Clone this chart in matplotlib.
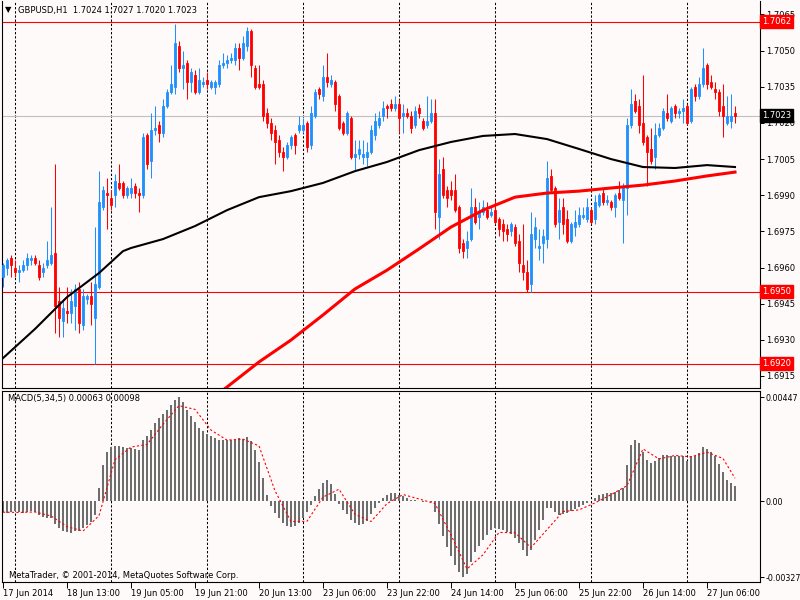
import numpy as np
import matplotlib
matplotlib.use('Agg')
import matplotlib.pyplot as plt

# GBPUSD H1 candles (17 Jun 21:00 .. 27 Jun 13:00)
opens = [1.6956, 1.6960, 1.6964, 1.6960, 1.6958, 1.6959, 1.6961, 1.6963, 1.6964, 1.6961,
         1.6958, 1.6961, 1.6962, 1.6966, 1.6946, 1.6938, 1.6942, 1.6941, 1.6944, 1.6951,
         1.6936, 1.6947, 1.6948, 1.6939, 1.6952, 1.6985, 1.6991, 1.6989, 1.6990, 1.6995,
         1.6995, 1.6990, 1.6991, 1.6994, 1.6991, 1.6990, 1.7015, 1.7004, 1.7017, 1.7019,
         1.7016, 1.7027, 1.7033, 1.7035, 1.7052, 1.7043, 1.7045, 1.7037, 1.7040, 1.7033,
         1.7036, 1.7038, 1.7035, 1.7035, 1.7036, 1.7044, 1.7045, 1.7046, 1.7046, 1.7051,
         1.7047, 1.7052, 1.7058, 1.7043, 1.7036, 1.7036, 1.7024, 1.7020, 1.7017, 1.7013,
         1.7008, 1.7006, 1.7011, 1.7015, 1.7017, 1.7017, 1.7020, 1.7011, 1.7023, 1.7034,
         1.7031, 1.7039, 1.7036, 1.7037, 1.7031, 1.7020, 1.7016, 1.7022, 1.7006, 1.7007,
         1.7006, 1.7006, 1.7008, 1.7015, 1.7019, 1.7023, 1.7027, 1.7028, 1.7026, 1.7028,
         1.7023, 1.7024, 1.7023, 1.7019, 1.7026, 1.7021, 1.7019, 1.7021, 1.7024, 1.6981,
         1.7001, 1.6992, 1.6992, 1.6992, 1.6985, 1.6970, 1.6968, 1.6972, 1.6985, 1.6981,
         1.6983, 1.6984, 1.6982, 1.6984, 1.6980, 1.6978, 1.6976, 1.6975, 1.6977, 1.6971,
         1.6961, 1.6958, 1.6953, 1.6972, 1.6968, 1.6970, 1.6972, 1.6998, 1.6993, 1.6979,
         1.6985, 1.6980, 1.6971, 1.6977, 1.6978, 1.6981, 1.6980, 1.6984, 1.6980, 1.6986,
         1.6991, 1.6987, 1.6987, 1.6985, 1.6991, 1.6988, 1.6993, 1.7019, 1.7029, 1.7027,
         1.7020, 1.7014, 1.7009, 1.7006, 1.7015, 1.7018, 1.7024, 1.7021, 1.7027, 1.7024,
         1.7025, 1.7027, 1.7021, 1.7035, 1.7031, 1.7036, 1.7044, 1.7037, 1.7034, 1.7033,
         1.7027, 1.7020, 1.7021, 1.7024]
highs = [1.6962, 1.6964, 1.6965, 1.6963, 1.6961, 1.6963, 1.6966, 1.6965, 1.6965, 1.6963,
         1.6962, 1.6971, 1.6985, 1.7003, 1.6952, 1.6947, 1.6952, 1.6951, 1.6953, 1.6954,
         1.6951, 1.6949, 1.6954, 1.6977, 1.7000, 1.6994, 1.6997, 1.6992, 1.6999, 1.7003,
         1.6996, 1.6994, 1.6997, 1.6995, 1.6993, 1.7016, 1.7016, 1.7024, 1.7027, 1.7021,
         1.7030, 1.7034, 1.7044, 1.7061, 1.7054, 1.7050, 1.7046, 1.7043, 1.7042, 1.7043,
         1.7039, 1.7041, 1.7038, 1.7038, 1.7046, 1.7049, 1.7048, 1.7049, 1.7053, 1.7053,
         1.7056, 1.7060, 1.7059, 1.7044, 1.7044, 1.7038, 1.7026, 1.7022, 1.7019, 1.7015,
         1.7010, 1.7012, 1.7015, 1.7016, 1.7023, 1.7022, 1.7021, 1.7027, 1.7034, 1.7035,
         1.7044, 1.7049, 1.7040, 1.7038, 1.7032, 1.7021, 1.7025, 1.7023, 1.7013, 1.7013,
         1.7013, 1.7012, 1.7019, 1.7024, 1.7025, 1.7029, 1.7028, 1.7030, 1.7031, 1.7030,
         1.7028, 1.7026, 1.7025, 1.7027, 1.7028, 1.7022, 1.7031, 1.7030, 1.7030, 1.7005,
         1.7006, 1.6994, 1.6996, 1.6999, 1.6986, 1.6972, 1.6975, 1.6993, 1.6989, 1.6987,
         1.6988, 1.6987, 1.6986, 1.6988, 1.6981, 1.6980, 1.6978, 1.6979, 1.6978, 1.6974,
         1.6978, 1.6963, 1.6983, 1.6981, 1.6976, 1.6976, 1.7004, 1.7001, 1.6994, 1.6989,
         1.6989, 1.6984, 1.6979, 1.6984, 1.6985, 1.6985, 1.6989, 1.6985, 1.6990, 1.6991,
         1.6993, 1.6990, 1.6988, 1.6991, 1.6996, 1.6995, 1.7022, 1.7034, 1.7032, 1.7030,
         1.7040, 1.7015, 1.7018, 1.7020, 1.7020, 1.7026, 1.7032, 1.7027, 1.7028, 1.7026,
         1.7030, 1.7028, 1.7035, 1.7036, 1.7039, 1.7051, 1.7045, 1.7040, 1.7037, 1.7034,
         1.7036, 1.7031, 1.7032, 1.7027]
lows = [1.6952, 1.6957, 1.6956, 1.6956, 1.6954, 1.6958, 1.6959, 1.6961, 1.6961, 1.6955,
        1.6956, 1.6960, 1.6961, 1.6933, 1.6931, 1.6931, 1.6937, 1.6937, 1.6934, 1.6933,
        1.6934, 1.6945, 1.6936, 1.6920, 1.6951, 1.6984, 1.6976, 1.6984, 1.6985, 1.6992,
        1.6989, 1.6989, 1.6989, 1.6989, 1.6983, 1.6989, 1.7001, 1.6997, 1.7015, 1.7012,
        1.7014, 1.7026, 1.7032, 1.7032, 1.7041, 1.7034, 1.7030, 1.7033, 1.7032, 1.7032,
        1.7035, 1.7034, 1.7034, 1.7032, 1.7035, 1.7043, 1.7043, 1.7045, 1.7044, 1.7042,
        1.7046, 1.7050, 1.7039, 1.7034, 1.7034, 1.7021, 1.7018, 1.7013, 1.7003, 1.7006,
        1.7000, 1.7005, 1.7009, 1.7007, 1.7016, 1.7016, 1.7008, 1.7009, 1.7022, 1.7030,
        1.7029, 1.7035, 1.7035, 1.7025, 1.7017, 1.7015, 1.7015, 1.7005, 1.7000, 1.7005,
        1.7003, 1.7002, 1.7007, 1.7013, 1.7018, 1.7021, 1.7022, 1.7025, 1.7025, 1.7016,
        1.7016, 1.7022, 1.7016, 1.7018, 1.7022, 1.7017, 1.7018, 1.7020, 1.6976, 1.6972,
        1.6989, 1.6985, 1.6988, 1.6983, 1.6966, 1.6964, 1.6964, 1.6971, 1.6978, 1.6976,
        1.6982, 1.6980, 1.6981, 1.6978, 1.6973, 1.6971, 1.6971, 1.6973, 1.6969, 1.6958,
        1.6955, 1.6950, 1.6950, 1.6968, 1.6963, 1.6962, 1.6968, 1.6991, 1.6977, 1.6972,
        1.6974, 1.6970, 1.6970, 1.6973, 1.6977, 1.6980, 1.6979, 1.6978, 1.6978, 1.6985,
        1.6986, 1.6986, 1.6984, 1.6981, 1.6988, 1.6970, 1.6982, 1.7018, 1.7024, 1.7016,
        1.7011, 1.6994, 1.7003, 1.7001, 1.7014, 1.7017, 1.7021, 1.7020, 1.7022, 1.7022,
        1.7020, 1.7019, 1.7020, 1.7029, 1.7030, 1.7035, 1.7034, 1.7034, 1.7030, 1.7023,
        1.7014, 1.7019, 1.7018, 1.7020]
closes = [1.6961, 1.6963, 1.6961, 1.6958, 1.6959, 1.6961, 1.6964, 1.6964, 1.6962, 1.6956,
          1.6960, 1.6963, 1.6965, 1.6944, 1.6939, 1.6943, 1.6941, 1.6946, 1.6951, 1.6937,
          1.6948, 1.6948, 1.6945, 1.6953, 1.6987, 1.6992, 1.6990, 1.6986, 1.6996, 1.6993,
          1.6990, 1.6993, 1.6993, 1.6991, 1.6990, 1.7014, 1.7003, 1.7017, 1.7018, 1.7016,
          1.7027, 1.7033, 1.7036, 1.7053, 1.7043, 1.7044, 1.7037, 1.7041, 1.7033, 1.7038,
          1.7037, 1.7036, 1.7037, 1.7037, 1.7044, 1.7045, 1.7046, 1.7047, 1.7051, 1.7047,
          1.7053, 1.7058, 1.7044, 1.7035, 1.7035, 1.7023, 1.7020, 1.7016, 1.7012, 1.7008,
          1.7006, 1.7011, 1.7014, 1.7011, 1.7019, 1.7019, 1.7010, 1.7024, 1.7033, 1.7032,
          1.7039, 1.7037, 1.7038, 1.7028, 1.7018, 1.7016, 1.7024, 1.7006, 1.7007, 1.7009,
          1.7007, 1.7008, 1.7017, 1.7021, 1.7022, 1.7026, 1.7026, 1.7026, 1.7028, 1.7022,
          1.7024, 1.7023, 1.7018, 1.7025, 1.7024, 1.7018, 1.7021, 1.7024, 1.6983, 1.6999,
          1.6990, 1.6989, 1.6990, 1.6984, 1.6968, 1.6967, 1.6971, 1.6985, 1.6979, 1.6983,
          1.6985, 1.6981, 1.6983, 1.6979, 1.6976, 1.6975, 1.6974, 1.6978, 1.6970, 1.6962,
          1.6958, 1.6951, 1.6974, 1.6977, 1.6969, 1.6973, 1.6997, 1.6992, 1.6978, 1.6984,
          1.6978, 1.6971, 1.6978, 1.6979, 1.6982, 1.6982, 1.6985, 1.6979, 1.6987, 1.6990,
          1.6987, 1.6988, 1.6985, 1.6990, 1.6989, 1.6993, 1.7019, 1.7028, 1.7025, 1.7019,
          1.7012, 1.7008, 1.7004, 1.7015, 1.7018, 1.7025, 1.7022, 1.7026, 1.7024, 1.7025,
          1.7026, 1.7020, 1.7034, 1.7031, 1.7036, 1.7043, 1.7036, 1.7035, 1.7033, 1.7025,
          1.7023, 1.7023, 1.7023, 1.7023]

# moving averages (read at every 8th bar)
ma_black_idx = [0, 8, 16, 24, 30, 32, 40, 48, 56, 64, 72, 80, 88, 96, 104, 112, 120,
                128, 136, 144, 152, 160, 168, 176, 183]
ma_black = [1.69224, 1.69345, 1.69477, 1.69577, 1.69668, 1.69681, 1.69718, 1.69772,
            1.69838, 1.69892, 1.69917, 1.69951, 1.70000, 1.70038, 1.70087, 1.70121,
            1.70146, 1.70154, 1.70133, 1.70092, 1.70050, 1.70017, 1.70013, 1.70025,
            1.70017]
ma_red_idx = [54, 56, 64, 72, 80, 88, 96, 104, 112, 120, 128, 136, 144, 152, 160,
              168, 176, 183]
ma_red = [1.69079, 1.69104, 1.69208, 1.69299, 1.69403, 1.69511, 1.69589, 1.69677,
          1.69768, 1.69838, 1.69892, 1.69909, 1.69917, 1.69930, 1.69942, 1.69959,
          1.69980, 1.69996]

# MACD(5,34,5) histogram, one value per bar
macd = [-0.00047, -0.00052, -0.00047, -0.00043, -0.00047, -0.00052, -0.00047, -0.00043,
        -0.00047, -0.00060, -0.00069, -0.00073, -0.00073, -0.00099, -0.00116, -0.00129,
        -0.00133, -0.00138, -0.00129, -0.00129, -0.00116, -0.00103, -0.00090, -0.00060,
        0.00056, 0.00155, 0.00211, 0.00232, 0.00237, 0.00237, 0.00232, 0.00228,
        0.00228, 0.00224, 0.00219, 0.00262, 0.00280, 0.00305, 0.00335, 0.00357,
        0.00374, 0.00391, 0.00413, 0.00434, 0.00447, 0.00426, 0.00391, 0.00366,
        0.00340, 0.00314, 0.00301, 0.00288, 0.00280, 0.00271, 0.00262, 0.00262,
        0.00262, 0.00262, 0.00262, 0.00271, 0.00267, 0.00275, 0.00258, 0.00219,
        0.00168, 0.00099, 0.00026, -0.00022, -0.00052, -0.00073, -0.00095, -0.00108,
        -0.00112, -0.00108, -0.00095, -0.00073, -0.00047, -0.00017, 0.00022, 0.00052,
        0.00077, 0.00090, 0.00073, 0.00030, -0.00013, -0.00039, -0.00056, -0.00082,
        -0.00095, -0.00103, -0.00099, -0.00086, -0.00056, -0.00030, -0.00009, 0.00013,
        0.00026, 0.00034, 0.00034, 0.00026, 0.00022, 0.00013, 0.00004, 0.00004,
        0.00000, -0.00004, 0.00000, -0.00004, -0.00047, -0.00099, -0.00150, -0.00198,
        -0.00237, -0.00275, -0.00305, -0.00327, -0.00314, -0.00262, -0.00219, -0.00194,
        -0.00168, -0.00146, -0.00125, -0.00116, -0.00120, -0.00125, -0.00133, -0.00142,
        -0.00159, -0.00181, -0.00211, -0.00237, -0.00211, -0.00168, -0.00125, -0.00082,
        -0.00030, -0.00030, -0.00047, -0.00060, -0.00056, -0.00052, -0.00043, -0.00034,
        -0.00026, -0.00017, -0.00009, 0.00000, 0.00013, 0.00026, 0.00030, 0.00034,
        0.00034, 0.00039, 0.00047, 0.00056, 0.00155, 0.00241, 0.00262, 0.00249,
        0.00211, 0.00176, 0.00163, 0.00172, 0.00185, 0.00198, 0.00198, 0.00194,
        0.00194, 0.00194, 0.00194, 0.00172, 0.00194, 0.00194, 0.00206, 0.00232,
        0.00224, 0.00211, 0.00194, 0.00159, 0.00125, 0.00090, 0.00077, 0.00063]
signal_idx = list(range(0, 181, 4)) + [183]
signal = [-0.00048, -0.00049, -0.00047, -0.00064, -0.00110, -0.00129, -0.00063, 0.00178,
          0.00232, 0.00243, 0.00330, 0.00410, 0.00394, 0.00305, 0.00262, 0.00266,
          0.00237, 0.00044, -0.00088, -0.00087, 0.00017, 0.00051, -0.00057, -0.00088,
          -0.00011, 0.00028, 0.00009, -0.00011, -0.00146, -0.00292, -0.00231, -0.00135,
          -0.00136, -0.00200, -0.00123, -0.00045, -0.00038, -0.00008, 0.00027, 0.00066,
          0.00224, 0.00181, 0.00196, 0.00190, 0.00210, 0.00183, 0.00098]

price_ticks = [1.7065, 1.7050, 1.7035, 1.7020, 1.7005, 1.6990, 1.6975, 1.6960,
               1.6945, 1.6930, 1.6915]
levels_red = [1.7062, 1.6950, 1.6920]
bid = 1.7023
day_lines = [3, 27, 51, 75, 99, 123, 147, 171]
time_ticks = [0, 16, 32, 48, 64, 80, 96, 112, 128, 144, 160, 176]
time_labels = ['17 Jun 2014', '18 Jun 13:00', '19 Jun 05:00', '19 Jun 21:00',
               '20 Jun 13:00', '23 Jun 06:00', '23 Jun 22:00', '24 Jun 14:00',
               '25 Jun 06:00', '25 Jun 22:00', '26 Jun 14:00', '27 Jun 06:00']

BG = '#fffafa'
UP = '#1e90ff'
DOWN = '#ff0000'
FS = 6

o = np.array(opens)
h = np.array(highs)
l = np.array(lows)
c = np.array(closes)
x = np.arange(len(c))
cols = np.where(c >= o, UP, DOWN)

fig = plt.figure(figsize=(8, 6), dpi=100, facecolor=BG)
ax = fig.add_axes([2/800, 1-388/600, 758/800, 387/600], facecolor=BG)
ax2 = fig.add_axes([2/800, 1-582/600, 758/800, 191/600], facecolor=BG)

for a in (ax, ax2):
    a.set_xlim(-0.25, 189.25)
    for d in day_lines:
        a.axvline(d, color='black', lw=0.75, ls=(0, (2.2, 1.8)), zorder=0)

# price panel
ax.set_ylim(1.69100, 1.70706)
for lv in levels_red:
    ax.axhline(lv, color='red', lw=0.8, zorder=1)
ax.axhline(bid, color='#c0c0c0', lw=0.8, zorder=1)

ax.vlines(x, l, h, colors=cols, lw=0.75, zorder=2)
ax.bar(x, c - o, bottom=o, width=0.62, color=cols, edgecolor=cols, lw=0.6, zorder=3)

ax.plot(ma_black_idx, ma_black, color='black', lw=1.5, zorder=4)
ax.plot(ma_red_idx, ma_red, color='red', lw=2.2, zorder=4)

ax.yaxis.tick_right()
ax.set_yticks(price_ticks)
ax.set_yticklabels(['%.4f' % p for p in price_ticks])
ax.set_xticks([])
ax.tick_params(axis='y', direction='out', length=3, width=0.7, labelsize=FS, pad=1.5)
ax.spines['top'].set_visible(False)
for s in ('left', 'right', 'bottom'):
    ax.spines[s].set_linewidth(0.8)

tr = ax.get_yaxis_transform()
for lv in levels_red:
    ax.text(1.003, lv, '%.4f' % lv, transform=tr, fontsize=FS, color='white',
            va='center', ha='left', zorder=10,
            bbox=dict(boxstyle='square,pad=0.25', fc='red', ec='red'))
ax.text(1.003, bid, '%.4f' % bid, transform=tr, fontsize=FS, color='white',
        va='center', ha='left', zorder=10,
        bbox=dict(boxstyle='square,pad=0.25', fc='black', ec='black'))

# MACD panel
ax2.set_ylim(-0.00348, 0.00473)
ax2.bar(x, macd, width=0.7, color='#6e6e6e', zorder=2)
ax2.plot(signal_idx, signal, color='red', lw=0.8, ls=(0, (2, 2)), zorder=3)
ax2.yaxis.tick_right()
ax2.set_yticks([0.00447, 0.0, -0.00327])
ax2.set_yticklabels(['0.00447', '0.00', '-0.00327'])
ax2.set_xticks(time_ticks)
ax2.set_xticklabels(time_labels, ha='left')
ax2.tick_params(axis='y', direction='out', length=3, width=0.7, labelsize=5.7, pad=1)
ax2.tick_params(axis='x', direction='out', length=4, width=0.7, labelsize=FS, pad=1)
for s in ax2.spines.values():
    s.set_linewidth(0.8)

ax2.text(6/758, 1-7/191, 'MACD(5,34,5) 0.00063 0.00098', transform=ax2.transAxes,
         fontsize=FS, va='center', ha='left')
ax2.text(7/758, 7/191, 'MetaTrader, © 2001-2014, MetaQuotes Software Corp.',
         transform=ax2.transAxes, fontsize=FS, va='center', ha='left')

fig.text(5/800, 1-10/600, '▼', fontsize=6, va='center', ha='left')
fig.text(18/800, 1-10/600, 'GBPUSD,H1  1.7024 1.7027 1.7020 1.7023', fontsize=FS,
         va='center', ha='left')

fig.savefig('out.png', dpi=100, facecolor=BG)
